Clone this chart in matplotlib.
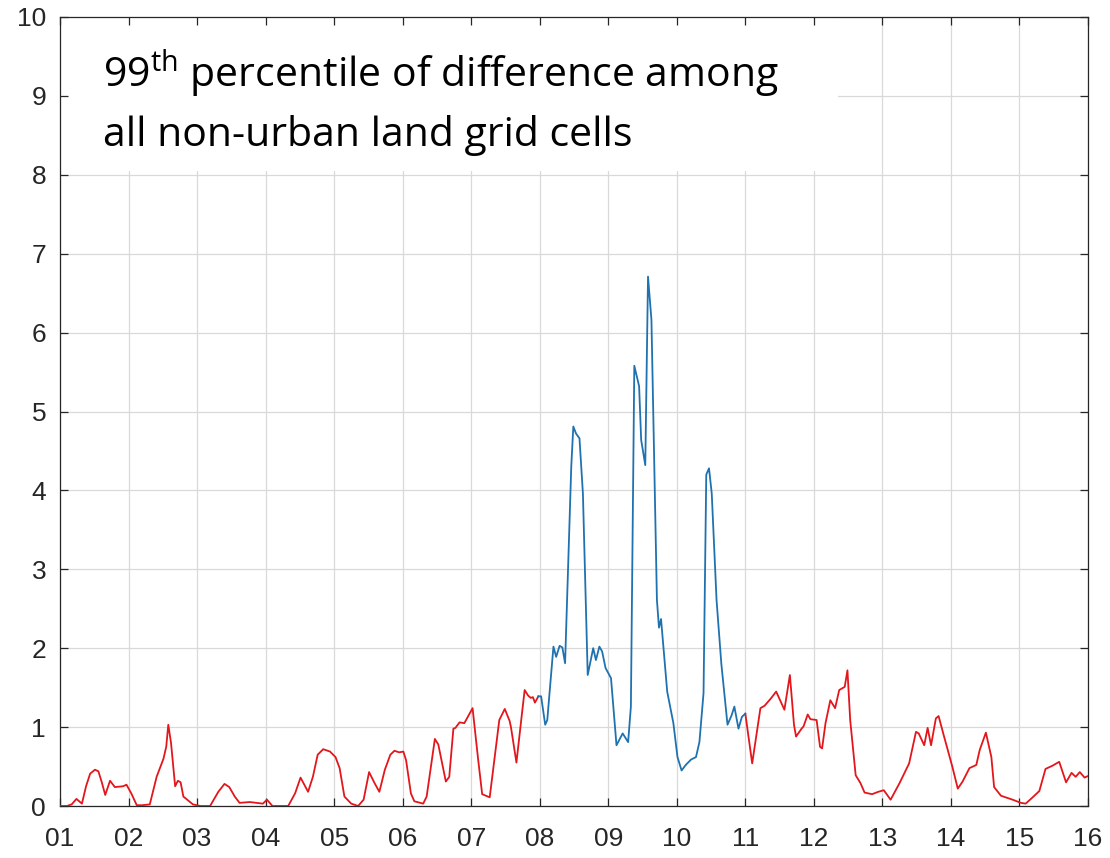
import matplotlib
matplotlib.use("Agg")
import matplotlib.pyplot as plt
from matplotlib.patches import Rectangle
import numpy as np

# Day of month (fractional) and 99th-percentile difference values
day = [
    1.00, 1.10, 1.17, 1.24, 1.32, 1.38, 1.44, 1.51, 1.56, 1.61, 1.66, 1.73, 1.80, 1.92, 1.97,
    2.04, 2.12, 2.20, 2.31, 2.41, 2.51, 2.55, 2.58, 2.62, 2.68, 2.72, 2.76, 2.80, 2.94,
    3.05, 3.19, 3.31, 3.40, 3.47, 3.55, 3.62, 3.77, 3.96,
    4.02, 4.10, 4.33, 4.43, 4.51, 4.62, 4.69, 4.76, 4.84, 4.94,
    5.02, 5.08, 5.15, 5.25, 5.35, 5.43, 5.51, 5.59, 5.66, 5.74, 5.82, 5.88, 5.95,
    6.01, 6.05, 6.12, 6.17, 6.30, 6.35, 6.47, 6.52, 6.63, 6.68, 6.74, 6.77, 6.83, 6.90,
    7.02, 7.10, 7.16, 7.27, 7.41, 7.49, 7.56, 7.58, 7.66, 7.73, 7.78, 7.83, 7.87, 7.90, 7.93, 7.98,
    8.02, 8.08, 8.11, 8.20, 8.24, 8.29, 8.33, 8.37, 8.46, 8.49, 8.53, 8.58, 8.63, 8.70, 8.78,
    8.82, 8.87, 8.91, 8.96,
    9.04, 9.12, 9.21, 9.29, 9.33, 9.38, 9.45, 9.48, 9.54, 9.58, 9.63, 9.71, 9.74, 9.77, 9.86, 9.95,
    10.01, 10.07, 10.13, 10.21, 10.28, 10.33, 10.39, 10.43, 10.47, 10.51, 10.58, 10.65, 10.74,
    10.80, 10.84, 10.90, 10.95,
    11.00, 11.10, 11.22, 11.28, 11.37, 11.45, 11.57, 11.65, 11.71, 11.74, 11.82, 11.85, 11.91, 11.95,
    12.04, 12.09, 12.12, 12.17, 12.24, 12.31, 12.37, 12.45, 12.49, 12.53, 12.61, 12.68, 12.74, 12.85, 12.94,
    13.02, 13.12, 13.25, 13.39, 13.49, 13.53, 13.61, 13.66, 13.71, 13.78, 13.82, 13.90,
    14.02, 14.10, 14.17, 14.27, 14.37, 14.42, 14.51, 14.59, 14.63, 14.73, 14.90,
    15.02, 15.09, 15.18, 15.29, 15.38, 15.48, 15.58, 15.68, 15.76, 15.82, 15.88, 15.95, 16.00,
]
value = [
    0.00, 0.00, 0.02, 0.09, 0.03, 0.25, 0.41, 0.46, 0.44, 0.30, 0.14, 0.32, 0.24, 0.25, 0.27,
    0.16, 0.01, 0.01, 0.02, 0.37, 0.60, 0.75, 1.03, 0.80, 0.25, 0.32, 0.30, 0.12, 0.02,
    0.00, 0.00, 0.18, 0.28, 0.24, 0.12, 0.04, 0.05, 0.03,
    0.08, 0.00, 0.00, 0.16, 0.36, 0.18, 0.37, 0.65, 0.72, 0.69,
    0.62, 0.48, 0.12, 0.03, 0.00, 0.08, 0.43, 0.29, 0.18, 0.46, 0.65, 0.70, 0.68,
    0.69, 0.58, 0.16, 0.06, 0.03, 0.12, 0.85, 0.78, 0.31, 0.37, 0.98, 0.99, 1.06, 1.05,
    1.24, 0.60, 0.15, 0.11, 1.09, 1.23, 1.08, 1.00, 0.55, 1.09, 1.47, 1.40, 1.37, 1.38, 1.31, 1.39,
    1.39, 1.03, 1.09, 2.02, 1.89, 2.03, 2.01, 1.81, 4.30, 4.81, 4.72, 4.66, 3.96, 1.66, 2.00,
    1.85, 2.02, 1.96, 1.75,
    1.62, 0.77, 0.92, 0.81, 1.26, 5.58, 5.32, 4.64, 4.32, 6.71, 6.16, 2.61, 2.26, 2.37, 1.45, 1.05,
    0.62, 0.45, 0.52, 0.59, 0.62, 0.81, 1.43, 4.20, 4.28, 3.96, 2.61, 1.80, 1.03,
    1.15, 1.26, 0.98, 1.13,
    1.17, 0.54, 1.24, 1.27, 1.36, 1.45, 1.22, 1.66, 1.03, 0.88, 0.98, 1.01, 1.16, 1.10,
    1.09, 0.75, 0.73, 1.05, 1.34, 1.24, 1.47, 1.51, 1.72, 1.09, 0.39, 0.29, 0.17, 0.15, 0.18,
    0.20, 0.08, 0.29, 0.54, 0.94, 0.92, 0.77, 0.99, 0.77, 1.11, 1.14, 0.88,
    0.50, 0.22, 0.31, 0.48, 0.52, 0.71, 0.93, 0.62, 0.24, 0.13, 0.08,
    0.04, 0.03, 0.10, 0.19, 0.47, 0.51, 0.56, 0.30, 0.42, 0.37, 0.43, 0.36, 0.38,
]

# Period highlighted in blue
highlight_start = 7.98
highlight_end = 11.00

x_ticks = list(range(1, 17))
x_labels = [f"{d:02d}" for d in x_ticks]
y_ticks = list(range(0, 11))

title_line1 = "99$^{\\mathrm{th}}$ percentile of difference among"
title_line2 = "all non-urban land grid cells"

title_font = "Open Sans"
plt.rcParams["mathtext.fontset"] = "custom"
plt.rcParams["mathtext.rm"] = title_font
plt.rcParams["mathtext.it"] = title_font + ":italic"
plt.rcParams["mathtext.bf"] = title_font + ":bold"

axis_color = "#262626"
red = "#e3161c"
blue = "#1f72b0"

fig = plt.figure(figsize=(11.10, 8.58), dpi=100)
ax = fig.add_axes([60 / 1110, 1 - 806 / 858, 1028 / 1110, 789 / 858])

d = np.array(day)
v = np.array(value)
before = d <= highlight_start
during = (d >= highlight_start) & (d <= highlight_end)
after = d >= highlight_end

ax.plot(d[before], v[before], color=red, lw=1.3, zorder=3)
ax.plot(d[after], v[after], color=red, lw=1.3, zorder=3)
ax.plot(d[during], v[during], color=blue, lw=1.3, zorder=3)

ax.set_xlim(1, 16)
ax.set_ylim(0, 10)
ax.set_xticks(x_ticks)
ax.set_xticklabels(x_labels)
ax.set_yticks(y_ticks)

# grid drawn by hand so the label box can sit between grid and ticks
for xv in x_ticks:
    ax.axvline(xv, color="#d9d9d9", lw=0.9, zorder=0.5)
for yv in y_ticks:
    ax.axhline(yv, color="#d9d9d9", lw=0.9, zorder=0.5)
ax.set_axisbelow(False)

ax.add_patch(Rectangle((1, 8.05), 11.35, 1.95, facecolor="white",
                       edgecolor="none", zorder=1))

ax.text(0.042, 9.12, title_line1, transform=ax.get_yaxis_transform(),
        family=title_font, fontsize=29.5, color="black", va="baseline", ha="left", zorder=4)
ax.text(0.042, 8.36, title_line2, transform=ax.get_yaxis_transform(),
        family=title_font, fontsize=29.5, color="black", va="baseline", ha="left", zorder=4)

for s in ax.spines.values():
    s.set_color(axis_color)
    s.set_linewidth(0.9)

ax.tick_params(axis="both", which="major", direction="in", length=6, width=0.9,
               color=axis_color, labelcolor=axis_color, labelsize=19,
               top=True, right=True)
ax.tick_params(axis="x", pad=15)
ax.tick_params(axis="y", pad=10)
for lab in ax.get_xticklabels() + ax.get_yticklabels():
    lab.set_family("Liberation Sans")

fig.savefig("out.png", dpi=100, facecolor="white")
